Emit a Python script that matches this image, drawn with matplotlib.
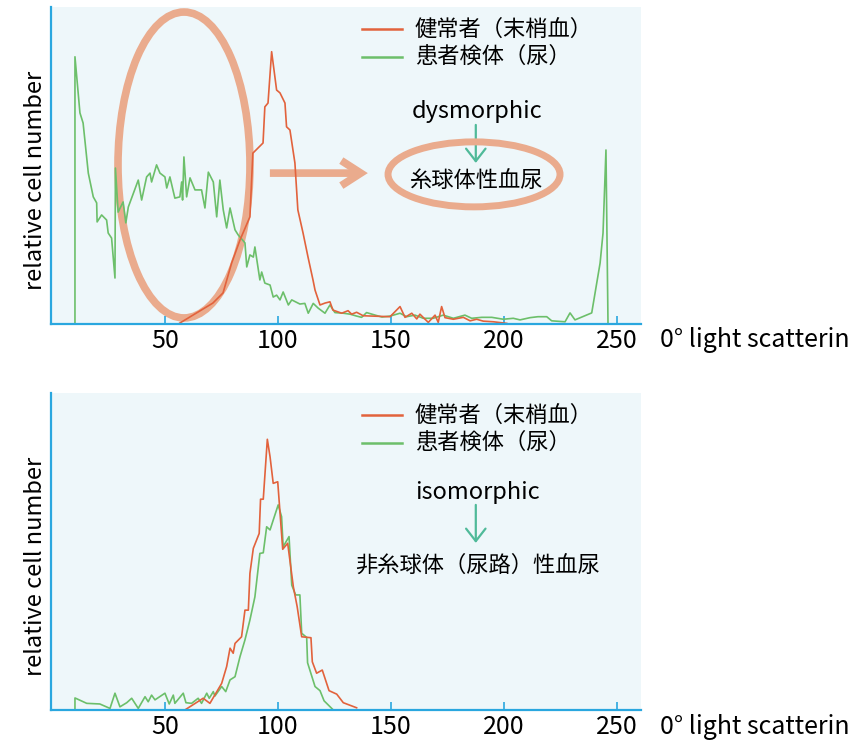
import matplotlib
matplotlib.use("Agg")
import matplotlib.pyplot as plt
from matplotlib.patches import Ellipse, FancyArrowPatch, ArrowStyle

plt.rcParams['font.family'] = ['Noto Sans CJK JP', 'DejaVu Sans']

# ---- data ----
xticks = [50, 100, 150, 200, 250]

top_red_x = [56.6, 64.0, 71.2, 75.7, 79.5, 83.2, 87.6, 88.9, 93.4, 94.2,
             95.6, 97.2, 99.4, 100.9, 103.1, 103.8, 105.3, 107.5, 108.8, 111.1,
             113.3, 115.5, 116.4, 118.6, 120.8, 123.0, 124.3, 128.2, 131.0, 132.6,
             134.8, 137.7, 149.6, 154.0, 156.2, 159.2, 161.4, 162.8, 166.5, 169.5,
             170.9, 172.4, 173.9, 177.6, 182.0, 185.0, 187.9, 190.8, 195.3, 201.2]
top_red_y = [0.3, 3.5, 6.6, 9.8, 19.2, 26.5, 33.8, 53.9, 57.1, 68.5,
             69.7, 85.9, 73.8, 72.9, 69.7, 62.2, 61.2, 50.8, 36.0, 28.7,
             21.1, 13.9, 10.7, 6.0, 6.6, 7.0, 4.4, 3.4, 4.2, 3.1,
             3.7, 2.6, 2.3, 5.5, 2.1, 3.4, 1.6, 3.1, 0.5, 2.8,
             0.5, 5.5, 2.0, 1.5, 2.1, 1.0, 1.5, 0.9, 0.7, 0.2]

top_green_x = [10.2, 10.2, 12.4, 13.8, 16.1, 18.3, 19.8, 20.0, 22.0, 24.2,
               24.9, 26.4, 27.9, 28.1, 29.3, 31.5, 32.7, 33.8, 38.2, 39.7,
               41.9, 43.4, 44.1, 46.3, 47.8, 50.0, 50.8, 52.2, 54.4, 56.6,
               57.4, 57.8, 58.4, 59.6, 61.1, 63.3, 66.2, 67.7, 69.2, 71.4,
               72.9, 74.3, 75.8, 77.3, 78.8, 81.0, 82.4, 85.4, 86.2, 87.6,
               89.1, 89.8, 92.0, 92.8, 94.2, 96.5, 97.9, 99.4, 100.9, 102.3,
               104.6, 106.1, 109.7, 111.9, 113.4, 115.6, 117.8, 120.8, 123.0, 125.2,
               128.9, 131.9, 134.8, 137.0, 139.2, 143.0, 146.0, 149.6, 154.0, 156.9,
               160.6, 164.3, 168.7, 173.1, 177.6, 182.7, 185.7, 190.1, 194.6, 199.7,
               204.1, 207.1, 211.5, 215.0, 218.9, 221.1, 227.0, 229.2, 231.4, 238.8,
               242.5, 243.8, 245.1, 246.0]
top_green_y = [0, 84.3, 66.6, 63.4, 47.6, 40.1, 38.2, 32.2, 34.4, 32.8,
               28.7, 27.1, 14.5, 49.2, 35.3, 38.5, 31.9, 36.9, 45.4, 39.1,
               46.4, 47.6, 44.8, 50.2, 47.6, 46.4, 42.9, 46.4, 39.7, 40.1,
               44.8, 39.1, 52.7, 40.1, 46.1, 42.3, 42.3, 36.6, 47.9, 44.8,
               33.8, 45.4, 36.0, 30.3, 36.6, 29.7, 28.1, 25.6, 18.0, 21.8,
               21.1, 24.3, 13.9, 16.4, 12.9, 12.3, 8.5, 9.1, 7.6, 10.1,
               6.0, 7.6, 6.3, 6.5, 3.4, 6.5, 5.0, 3.4, 6.0, 3.6,
               3.4, 3.1, 2.5, 2.1, 3.6, 2.8, 2.2, 2.5, 3.4, 2.3,
               2.8, 1.8, 1.8, 2.8, 1.8, 2.8, 1.8, 2.1, 2.1, 1.5,
               1.8, 1.3, 2.0, 2.3, 2.3, 1.0, 0.7, 3.5, 1.3, 3.5,
               19.2, 28.7, 54.9, 0.3]

bot_red_x = [58.8, 66.9, 69.9, 75.1, 77.3, 78.8, 80.2, 81.0, 83.9, 85.4,
             86.9, 87.6, 89.1, 91.7, 92.3, 93.5, 95.3, 96.5, 97.9, 99.9,
             102.1, 104.3, 106.8, 108.5, 110.5, 114.6, 115.2, 117.1, 119.6, 122.6,
             126.0, 128.9, 134.8]
bot_red_y = [0, 3.7, 2.1, 8.4, 13.7, 19.5, 17.9, 21.0, 23.1, 31.5,
             31.5, 43.1, 51.0, 55.7, 66.5, 66.5, 85.4, 79.9, 71.5, 72.0,
             50.7, 52.6, 38.9, 32.6, 23.1, 22.8, 15.2, 11.6, 12.6, 6.1,
             5.0, 2.3, 0.7]

bot_green_x = [10.2, 10.2, 15.4, 21.2, 25.7, 27.9, 30.1, 33.1, 35.3, 38.2, 41.2,
               42.6, 44.1, 45.6, 50.0, 51.9, 53.7, 54.4, 58.1, 59.3, 61.8,
               64.7, 66.2, 68.5, 69.6, 71.4, 72.1, 75.1, 76.9, 78.8, 81.0,
               83.2, 85.4, 87.6, 89.8, 92.0, 93.5, 95.0, 96.5, 97.9, 100.1,
               101.6, 102.3, 104.9, 106.1, 107.8, 109.7, 110.5, 112.7, 113.1, 116.4,
               118.6, 120.4, 124.5]
bot_green_y = [0, 3.8, 2.1, 1.9, 0.5, 5.3, 1.0, 2.3, 3.7, 0.5, 4.2,
               2.6, 4.7, 3.2, 5.3, 1.9, 4.7, 2.1, 5.3, 2.3, 2.1,
               3.7, 2.1, 5.3, 3.7, 5.8, 4.4, 7.4, 5.8, 9.5, 10.5,
               16.8, 22.1, 28.4, 35.7, 49.4, 49.6, 57.8, 56.8, 59.9, 64.7,
               61.0, 51.5, 54.7, 39.4, 36.3, 36.3, 24.2, 22.9, 14.9, 7.4,
               6.1, 2.9, 0]

legend_labels = ['健常者（末梢血）', '患者検体（尿）']

RED = '#e2623c'
GREEN = '#6cbf6a'
SALMON = '#eaab8d'
TEAL = '#4fba99'
BLUE = '#2aa7df'
BG = '#eef7fa'

fig = plt.figure(figsize=(8.6, 7.41), dpi=100)
ax_top = fig.add_axes([51/860, 417/741, 590/860, 317/741])
ax_bot = fig.add_axes([51/860, 31/741, 590/860, 317/741])


def style(ax):
    ax.set_facecolor(BG)
    ax.set_xlim(-0.4, 260.6)
    ax.set_ylim(0, 100)
    ax.spines['top'].set_visible(False)
    ax.spines['right'].set_visible(False)
    for s in ['left', 'bottom']:
        ax.spines[s].set_color(BLUE)
        ax.spines[s].set_linewidth(1.6)
    ax.set_xticks(xticks)
    ax.tick_params(axis='x', direction='in', length=6, width=1.2, color=BLUE,
                   labelsize=18, pad=3)
    ax.set_yticks([])


def legend(ax):
    for lab, col, yy in zip(legend_labels, [RED, GREEN], [0.931, 0.843]):
        ax.plot([0.527, 0.595], [yy, yy], color=col, lw=1.8, transform=ax.transAxes)
        ax.text(0.617, yy, lab, transform=ax.transAxes, fontsize=16, va='center', ha='left')


def down_arrow(ax, x, y0, y1):
    ar = FancyArrowPatch((x, y0), (x, y1), transform=ax.transAxes,
                         arrowstyle=ArrowStyle('->', head_length=9, head_width=7),
                         mutation_scale=1, color=TEAL, lw=1.6, shrinkA=0, shrinkB=0)
    ax.add_patch(ar)


for ax in [ax_top, ax_bot]:
    style(ax)

# top panel
ax_top.add_patch(Ellipse((0.2254, 0.5016), 0.2237, 0.965, transform=ax_top.transAxes,
                         fill=False, ec=SALMON, lw=5.5))
ax_top.plot(top_green_x, top_green_y, color=GREEN, lw=1.2)
ax_top.plot(top_red_x, top_red_y, color=RED, lw=1.2)
legend(ax_top)
big = FancyArrowPatch((0.371, 0.476), (0.537, 0.476), transform=ax_top.transAxes,
                      arrowstyle=ArrowStyle('->', head_length=14, head_width=9),
                      mutation_scale=1, color=SALMON, lw=5.5, shrinkA=0, shrinkB=0,
                      capstyle='butt', joinstyle='miter')
ax_top.add_patch(big)
ax_top.text(0.722, 0.669, 'dysmorphic', transform=ax_top.transAxes, fontsize=17,
            ha='center', va='center')
down_arrow(ax_top, 0.720, 0.628, 0.508)
ax_top.text(0.722, 0.448, '糸球体性血尿', transform=ax_top.transAxes, fontsize=16,
            ha='center', va='center')
ax_top.add_patch(Ellipse((0.717, 0.472), 0.2915, 0.205, transform=ax_top.transAxes,
                         fill=False, ec=SALMON, lw=5.0))

# bottom panel
ax_bot.plot(bot_green_x, bot_green_y, color=GREEN, lw=1.2)
ax_bot.plot(bot_red_x, bot_red_y, color=RED, lw=1.2)
legend(ax_bot)
ax_bot.text(0.723, 0.685, 'isomorphic', transform=ax_bot.transAxes, fontsize=17,
            ha='center', va='center')
down_arrow(ax_bot, 0.720, 0.647, 0.527)
ax_bot.text(0.723, 0.457, '非糸球体（尿路）性血尿', transform=ax_bot.transAxes, fontsize=16,
            ha='center', va='center')

# axis labels (the reference shows the x label truncated at the right edge)
for yl, yx in [(0.756, 0.541), (0.235, 0.019)]:
    fig.text(0.041, yl, 'relative cell number', rotation=90, fontsize=17,
             ha='center', va='center')
    fig.text(660/860, yx, '0° light scatterin', fontsize=18, ha='left', va='center')

fig.savefig('out.png', dpi=100)
